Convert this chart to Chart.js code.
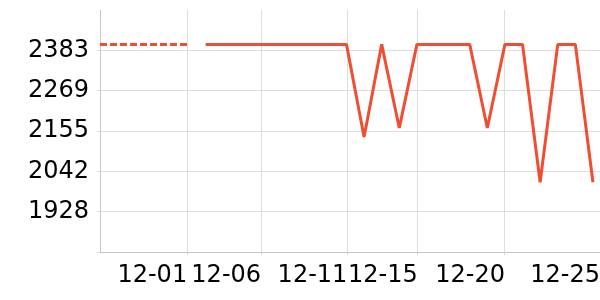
<!DOCTYPE html>
<html>
<head>
<meta charset="utf-8">
<script src="https://cdn.jsdelivr.net/npm/chart.js@4.4.1/dist/chart.umd.min.js"></script>
<style>
  html,body{margin:0;padding:0;background:#fff;}
  #chart{display:block;}
</style>
</head>
<body>
<canvas id="chart" width="600" height="300"></canvas>
<script>
// -------- DATA ----------
// x = day slot on the axis (one slot per point)
const forecastX = [0, 1, 2, 3, 4, 5];
const forecastY = [2400, 2400, 2400, 2400, 2400, 2400];

const actualX = [6, 7, 8, 9, 10, 11, 12, 13, 14, 15, 16, 17, 18, 19, 20, 21, 22, 23, 24, 25, 26, 27, 28];
const actualY = [2400, 2400, 2400, 2400, 2400, 2400, 2400, 2400, 2400, 2139, 2400, 2164,
                 2400, 2400, 2400, 2400, 2164, 2400, 2400, 2011, 2400, 2400, 2011];

const xTickPos    = [4.95, 9.15, 14.05, 18.05, 23.0, 28.4];
const xTickLabels = ['12-01', '12-06', '12-11', '12-15', '12-20', '12-25'];

const yTickPos    = [1814.4, 1928.2, 2041.9, 2155.7, 2269.5, 2383.2];
const yTickLabels = ['', '1928', '2042', '2155', '2269', '2383'];

const LINE = '#ef4e32';
const GRID = '#dddddd';
const AXIS = '#c8c8c8';
const tickFont = {family: '"DejaVu Sans", sans-serif', size: 24};

const pts = (xs, ys) => xs.map((x, i) => ({x: x, y: ys[i]}));
const noPad = s => { s.paddingLeft = 0; s.paddingRight = 0; s.paddingTop = 0; s.paddingBottom = 0; };

new Chart(document.getElementById('chart').getContext('2d'), {
  type: 'line',
  data: {
    datasets: [{
      data: pts(forecastX, forecastY),
      borderColor: LINE,
      borderWidth: 3,
      borderDash: [7, 3],
      borderJoinStyle: 'bevel',
      pointRadius: 0,
      fill: false,
      tension: 0
    }, {
      data: pts(actualX, actualY),
      borderColor: LINE,
      borderWidth: 3,
      borderJoinStyle: 'bevel',
      pointRadius: 0,
      fill: false,
      tension: 0
    }]
  },
  options: {
    responsive: false,
    animation: false,
    layout: {padding: {top: 10, right: 0, left: 0, bottom: 0}},
    plugins: {legend: {display: false}, tooltip: {enabled: false}},
    scales: {
      x: {
        type: 'linear',
        min: 0,
        max: 28.4,
        afterBuildTicks: s => { s.ticks = xTickPos.map(v => ({value: v})); },
        afterFit: s => { s.height = 48; noPad(s); },
        ticks: {
          callback: (v, i) => xTickLabels[i],
          align: 'end',
          autoSkip: false,
          maxRotation: 0,
          padding: 6,
          color: '#000',
          font: tickFont
        },
        grid: {color: GRID, tickLength: 3},
        border: {color: AXIS}
      },
      y: {
        min: 1814.4,
        max: 2497,
        afterBuildTicks: s => { s.ticks = yTickPos.map(v => ({value: v})); },
        afterFit: s => { s.width = 100; noPad(s); },
        ticks: {
          callback: (v, i) => yTickLabels[i],
          padding: 8,
          color: '#000',
          font: tickFont
        },
        grid: {color: GRID, tickLength: 3},
        border: {color: AXIS}
      }
    }
  }
});
</script>
</body>
</html>
